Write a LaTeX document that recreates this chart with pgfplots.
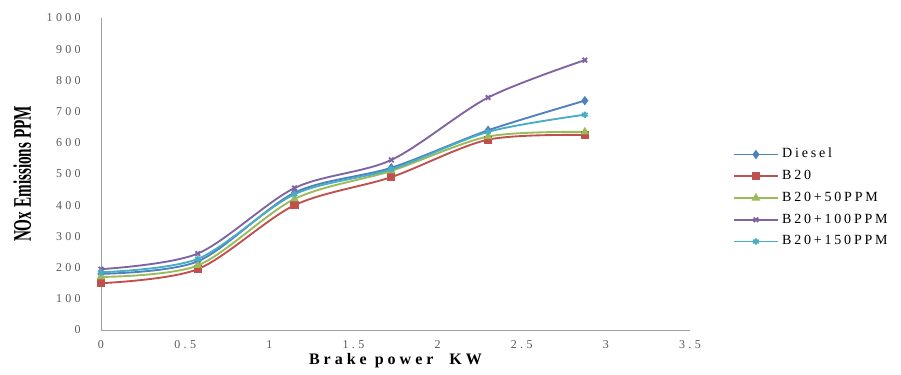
\documentclass[border=0pt]{standalone}
\usepackage{pgfplots}
\pgfplotsset{compat=1.18}
\usepackage{fontspec}
\setmainfont{Liberation Serif}
\definecolor{cDiesel}{HTML}{4F81BD}
\definecolor{cB20}{HTML}{C0504D}
\definecolor{cB50}{HTML}{9BBB59}
\definecolor{cB100}{HTML}{8064A2}
\definecolor{cB150}{HTML}{4BACC6}
\begin{document}
\begin{tikzpicture}
\path[use as bounding box] (-75.75pt,-33.75pt) rectangle (600pt,247.5pt);
\begin{axis}[
  scale only axis,
  width=441.75pt, height=234pt,
  xmin=0, xmax=3.5, ymin=0, ymax=1000,
  xtick={0,0.5,...,3.5},
  ytick={0,100,...,1000},
  axis x line*=bottom, axis y line*=left,
  axis line style={gray!75, line width=0.7pt},
  major tick length=0pt,
  /pgf/number format/assume math mode=true,
  /pgf/number format/fixed,
  /pgf/number format/1000 sep={},
  ticklabel style={font=\fontsize{9}{10}\selectfont\addfontfeature{LetterSpace=28}, text=black!65},
  yticklabel style={anchor=east, inner sep=0pt, xshift=-15pt},
  xticklabel style={anchor=center, inner sep=0pt, yshift=-11pt},
  xlabel={\addfontfeature{LetterSpace=25}Brake power\ \ KW},
  ylabel={NOx Emissions PPM},
  xlabel style={font=\bfseries\fontsize{12}{14}\selectfont, at={(axis description cs:0.5,0)}, anchor=center, yshift=-23pt},
  ylabel style={font=\bfseries\fontsize{19}{21}\selectfont\addfontfeature{FakeStretch=0.6}, at={(axis description cs:0,0.5)}, anchor=center, yshift=59pt},
  every axis plot/.append style={smooth, line width=1.4pt, mark size=2.4pt},
  legend style={at={(1.073,0.423)}, anchor=west, draw=none, fill=none,
    inner sep=0pt, outer sep=0pt,
    font=\fontsize{10.5}{11}\selectfont\addfontfeature{LetterSpace=20},
    nodes={inner xsep=0pt, inner ysep=0pt, text height=7pt, text depth=2pt},
    row sep=7.3pt, column sep=2.5pt},
  legend cell align=left,
  legend image code/.code={\draw[#1, line width=1.4pt] (0pt,0pt) -- (33pt,0pt);
    \draw[#1, only marks] plot coordinates {(16.5pt,0pt)};},
]
\addplot[color=cDiesel, mark=diamond*, mark options={fill=cDiesel}] coordinates {
 (0,180) (0.575,220) (1.15,440) (1.725,520) (2.3,640) (2.875,735)};
\addlegendentry{Diesel}
\addplot[color=cB20, mark=square*, mark options={fill=cB20}] coordinates {
 (0,150) (0.575,195) (1.15,400) (1.725,490) (2.3,610) (2.875,625)};
\addlegendentry{B20}
\addplot[color=cB50, mark=triangle*, mark options={fill=cB50}] coordinates {
 (0,170) (0.575,207) (1.15,420) (1.725,510) (2.3,620) (2.875,635)};
\addlegendentry{B20+50PPM}
\addplot[color=cB100, mark=x] coordinates {
 (0,195) (0.575,245) (1.15,455) (1.725,545) (2.3,745) (2.875,865)};
\addlegendentry{B20+100PPM}
\addplot[color=cB150, mark=asterisk] coordinates {
 (0,185) (0.575,228) (1.15,435) (1.725,515) (2.3,635) (2.875,690)};
\addlegendentry{B20+150PPM}
\end{axis}
\end{tikzpicture}
\end{document}
